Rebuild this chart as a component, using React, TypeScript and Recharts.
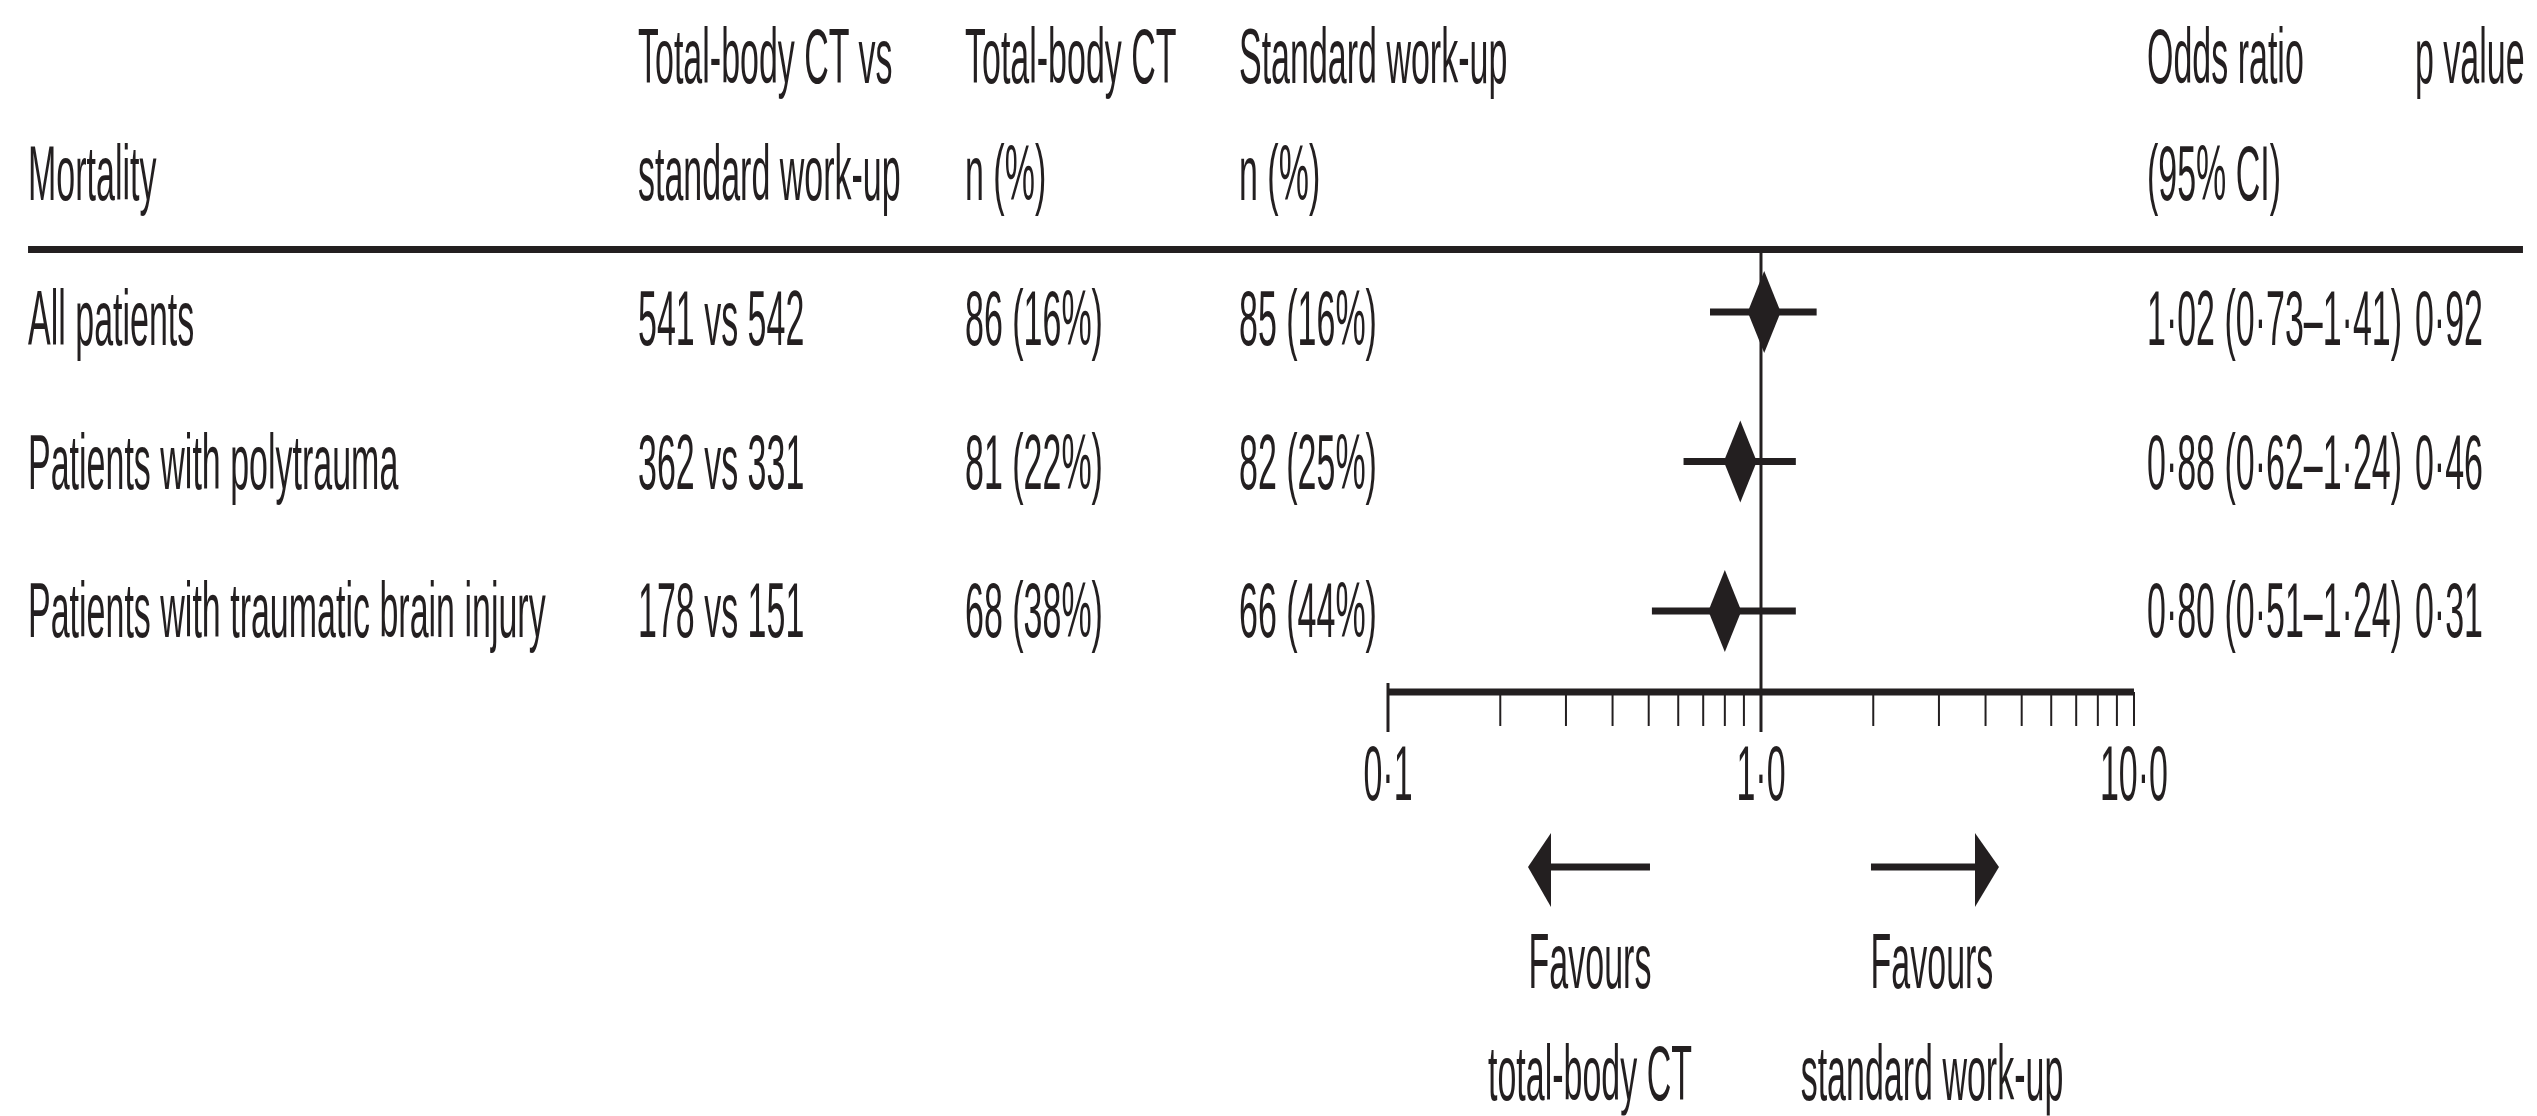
import React from 'react';
import { ScatterChart, Scatter, XAxis, YAxis, ErrorBar, ReferenceLine, Customized } from 'recharts';

// ---------- data ----------
const subgroups = ['All patients', 'Patients with polytrauma', 'Patients with traumatic brain injury'];
const patientsCT = [541, 362, 178];
const patientsStd = [542, 331, 151];
const deathsCT = [86, 81, 68];
const pctCT = [16, 22, 38];
const deathsStd = [85, 82, 66];
const pctStd = [16, 25, 44];
const oddsRatio = [1.02, 0.88, 0.8];
const ciLow = [0.73, 0.62, 0.51];
const ciHigh = [1.41, 1.24, 1.24];
const pValues = [0.92, 0.46, 0.31];

const xTicks = [0.1, 0.2, 0.3, 0.4, 0.5, 0.6, 0.7, 0.8, 0.9, 1, 2, 3, 4, 5, 6, 7, 8, 9, 10];
const majorTicks = [0.1, 1, 10];
const majorTickLabels = ['0·1', '1·0', '10·0'];

const headerLine1 = ['', 'Total-body CT vs', 'Total-body CT', 'Standard work-up', 'Odds ratio', 'p value'];
const headerLine2 = ['Mortality', 'standard work-up', 'n (%)', 'n (%)', '(95% CI)', ''];
const favoursLeft = ['Favours', 'total-body CT'];
const favoursRight = ['Favours', 'standard work-up'];

// ---------- layout ----------
const K = 2.3; // vertical stretch of the whole figure
const W = 2537;
const H = 1116 / K;
const Y = (v: number) => v / K;
const FONT = '"Liberation Sans", Arial, Helvetica, sans-serif';
const INK = '#231f20';
const FS = 34;

const colX = [28, 638, 965, 1239, 2147, 2415];
const headBase = [83, 200];
const rowBase = [345, 489, 637];

const fmt2 = (v: number) => v.toFixed(2).replace('.', '·');

const data = subgroups.map((name, i) => ({
  name,
  row: i + 1,
  or: oddsRatio[i],
  err: [oddsRatio[i] - ciLow[i], ciHigh[i] - oddsRatio[i]],
}));

const T = ({ x, y, children, anchor = 'start' }: any) => (
  <text x={x} y={y} fontFamily={FONT} fontSize={FS} fill={INK} textAnchor={anchor}>
    {children}
  </text>
);

const Diamond = (props: any) => {
  const { cx, cy } = props;
  if (cx == null || cy == null) return null;
  const hw = 16.5;
  const hh = Y(41);
  return (
    <path
      d={`M${cx - hw},${cy} L${cx},${cy - hh} L${cx + hw},${cy} L${cx},${cy + hh} Z`}
      fill={INK}
    />
  );
};

const AxisTick = (props: any) => {
  const { x, y, payload } = props;
  const v = payload.value;
  const idx = majorTicks.indexOf(v);
  const longTick = v === 0.1 || v === 1;
  const top = v === 0.1 ? y - Y(9) : y;
  const bottom = y + Y(longTick ? 40 : 34);
  return (
    <g>
      <line x1={x} x2={x} y1={top} y2={bottom} stroke={INK} strokeWidth={longTick ? 3 : 2} />
      {idx >= 0 && (
        <text x={x} y={y + Y(108)} fontFamily={FONT} fontSize={FS} fill={INK} textAnchor="middle">
          {majorTickLabels[idx]}
        </text>
      )}
    </g>
  );
};

const TableLayer = () => (
  <g>
    {headerLine1.map((t, i) => (t ? <T key={'h1' + i} x={colX[i]} y={Y(headBase[0])}>{t}</T> : null))}
    {headerLine2.map((t, i) => (t ? <T key={'h2' + i} x={colX[i]} y={Y(headBase[1])}>{t}</T> : null))}
    <line x1={28} x2={2523} y1={Y(249.5)} y2={Y(249.5)} stroke={INK} strokeWidth={3} />
    {subgroups.map((name, i) => (
      <g key={'r' + i}>
        <T x={colX[0]} y={Y(rowBase[i])}>{name}</T>
        <T x={colX[1]} y={Y(rowBase[i])}>{`${patientsCT[i]} vs ${patientsStd[i]}`}</T>
        <T x={colX[2]} y={Y(rowBase[i])}>{`${deathsCT[i]} (${pctCT[i]}%)`}</T>
        <T x={colX[3]} y={Y(rowBase[i])}>{`${deathsStd[i]} (${pctStd[i]}%)`}</T>
        <T x={colX[4]} y={Y(rowBase[i])}>{`${fmt2(oddsRatio[i])} (${fmt2(ciLow[i])}–${fmt2(ciHigh[i])})`}</T>
        <T x={colX[5]} y={Y(rowBase[i])}>{fmt2(pValues[i])}</T>
      </g>
    ))}
    {/* direction arrows */}
    <line x1={1545} x2={1650} y1={Y(867)} y2={Y(867)} stroke={INK} strokeWidth={3} />
    <path d={`M1528,${Y(867)} L1551,${Y(833)} L1551,${Y(907)} Z`} fill={INK} />
    <line x1={1871} x2={1982} y1={Y(867)} y2={Y(867)} stroke={INK} strokeWidth={3} />
    <path d={`M1999,${Y(867)} L1975,${Y(833)} L1975,${Y(907)} Z`} fill={INK} />
    <T x={1590} y={Y(988)} anchor="middle">{favoursLeft[0]}</T>
    <T x={1590} y={Y(1100)} anchor="middle">{favoursLeft[1]}</T>
    <T x={1932} y={Y(988)} anchor="middle">{favoursRight[0]}</T>
    <T x={1932} y={Y(1100)} anchor="middle">{favoursRight[1]}</T>
  </g>
);

export default function App() {
  const plotTop = Y(250);
  const axisY = Y(692);
  return (
    <div style={{ position: 'absolute', left: 0, top: 0, width: W, height: 1116, overflow: 'hidden', background: '#fff' }}>
      <div style={{ width: W, height: H, transform: `scaleY(${K})`, transformOrigin: '0 0' }}>
        <ScatterChart
          width={W}
          height={H}
          margin={{ top: plotTop, right: W - 2134, bottom: 0, left: 1388 }}
        >
          <XAxis
            type="number"
            dataKey="or"
            scale="log"
            domain={[0.1, 10]}
            allowDataOverflow
            ticks={xTicks}
            interval={0}
            tick={<AxisTick />}
            tickLine={false}
            tickSize={0}
            tickMargin={0}
            axisLine={{ stroke: INK, strokeWidth: 3 }}
            height={H - axisY}
          />
          <YAxis type="number" dataKey="row" domain={[0.585, 3.542]} allowDataOverflow reversed hide />
          <ReferenceLine x={1} stroke={INK} strokeWidth={3} ifOverflow="visible" />
          <Scatter data={data} shape={<Diamond />} isAnimationActive={false}>
            <ErrorBar dataKey="err" direction="x" width={0} stroke={INK} strokeWidth={3} isAnimationActive={false} />
          </Scatter>
          <Customized component={<TableLayer />} />
        </ScatterChart>
      </div>
    </div>
  );
}
